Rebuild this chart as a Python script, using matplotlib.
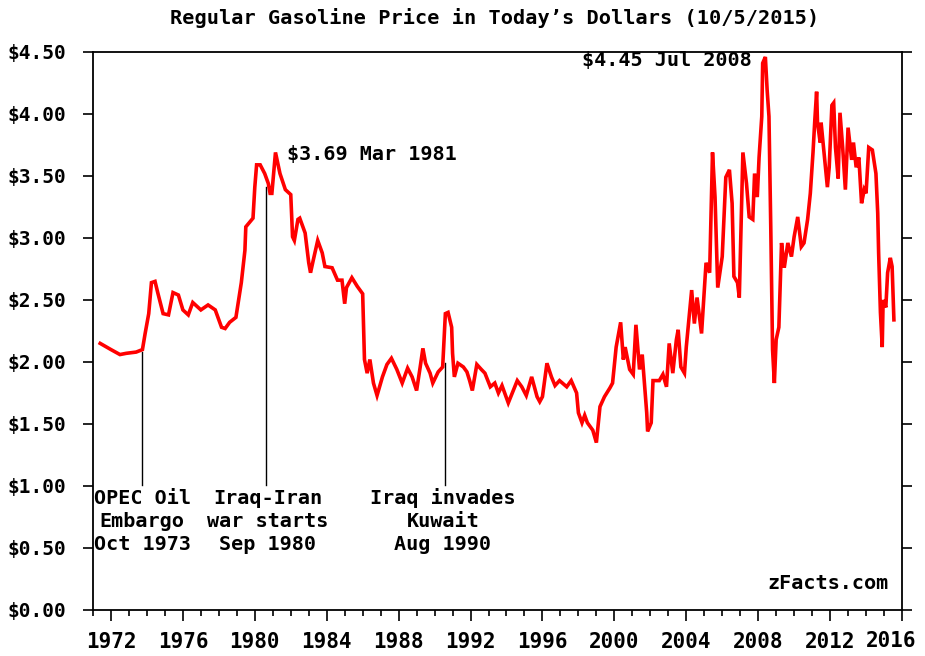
import matplotlib
matplotlib.use("Agg")
import matplotlib.pyplot as plt
from matplotlib.ticker import MultipleLocator, FuncFormatter

# monthly-ish readings (year, price in 2015 dollars)
years = [
    1971.4, 1972.0, 1972.5, 1972.85, 1973.4, 1973.75, 1973.9, 1974.1, 1974.25, 1974.45,
    1974.6, 1974.9, 1975.2, 1975.45, 1975.75, 1976.0, 1976.3, 1976.55, 1977.0, 1977.4,
    1977.8, 1978.15, 1978.35, 1978.6, 1978.95, 1979.25, 1979.45, 1979.5, 1979.9, 1980.0,
    1980.1, 1980.3, 1980.55, 1980.75, 1980.85, 1980.95, 1981.15, 1981.4, 1981.7, 1982.0,
    1982.1, 1982.2, 1982.4, 1982.5, 1982.8, 1983.0, 1983.1, 1983.25, 1983.5, 1983.75,
    1983.9, 1984.3, 1984.6, 1984.85, 1985.0, 1985.1, 1985.4, 1985.7, 1985.85, 1986.0,
    1986.1, 1986.25, 1986.4, 1986.6, 1986.8, 1987.1, 1987.35, 1987.6, 1987.9, 1988.2,
    1988.5, 1988.75, 1989.0, 1989.2, 1989.35, 1989.5, 1989.75, 1989.9, 1990.2, 1990.45,
    1990.6, 1990.75, 1990.95, 1991.0, 1991.1, 1991.3, 1991.6, 1991.8, 1991.95, 1992.1,
    1992.35, 1992.6, 1992.8, 1993.1, 1993.35, 1993.55, 1993.75, 1994.1, 1994.6, 1994.85,
    1995.1, 1995.4, 1995.7, 1995.85, 1996.0, 1996.25, 1996.5, 1996.7, 1996.95, 1997.35,
    1997.6, 1997.9, 1998.0, 1998.2, 1998.35, 1998.5, 1998.8, 1999.0, 1999.2, 1999.45,
    1999.75, 1999.9, 2000.1, 2000.35, 2000.5, 2000.6, 2000.85, 2001.05, 2001.2, 2001.4,
    2001.55, 2001.8, 2001.85, 2002.05, 2002.15, 2002.5, 2002.7, 2002.9, 2003.05, 2003.25,
    2003.45, 2003.55, 2003.7, 2003.9, 2004.0, 2004.3, 2004.45, 2004.6, 2004.85, 2005.1,
    2005.3, 2005.46, 2005.6, 2005.75, 2006.0, 2006.2, 2006.4, 2006.55, 2006.65, 2006.85,
    2006.95, 2007.15, 2007.35, 2007.5, 2007.7, 2007.8, 2007.95, 2008.05, 2008.2, 2008.25,
    2008.4, 2008.5, 2008.6, 2008.7, 2008.8, 2008.9, 2009.0, 2009.15, 2009.3, 2009.45,
    2009.65, 2009.85, 2010.0, 2010.2, 2010.4, 2010.55, 2010.75, 2010.9, 2011.05, 2011.15,
    2011.25, 2011.3, 2011.45, 2011.5, 2011.7, 2011.85, 2011.95, 2012.1, 2012.2, 2012.3,
    2012.45, 2012.55, 2012.7, 2012.85, 2013.0, 2013.2, 2013.3, 2013.45, 2013.6, 2013.75,
    2013.9, 2014.0, 2014.15, 2014.35, 2014.55, 2014.65, 2014.7, 2014.8, 2014.9, 2014.95,
    2015.1, 2015.2, 2015.35, 2015.45, 2015.5, 2015.55,
]
prices = [
    2.15, 2.10, 2.06, 2.07, 2.08, 2.10, 2.23, 2.39, 2.64, 2.65,
    2.56, 2.39, 2.38, 2.56, 2.54, 2.42, 2.38, 2.48, 2.42, 2.46,
    2.42, 2.28, 2.27, 2.32, 2.36, 2.64, 2.90, 3.09, 3.16, 3.41,
    3.59, 3.59, 3.52, 3.44, 3.36, 3.36, 3.69, 3.52, 3.39, 3.35,
    3.01, 2.98, 3.15, 3.16, 3.04, 2.80, 2.72, 2.82, 2.98, 2.88,
    2.77, 2.76, 2.66, 2.66, 2.47, 2.60, 2.68, 2.61, 2.58, 2.55,
    2.02, 1.91, 2.02, 1.83, 1.73, 1.88, 1.98, 2.03, 1.94, 1.83,
    1.95, 1.88, 1.77, 1.96, 2.11, 1.99, 1.91, 1.83, 1.92, 1.96,
    2.39, 2.40, 2.28, 2.07, 1.88, 1.99, 1.96, 1.92, 1.85, 1.77,
    1.98, 1.94, 1.91, 1.80, 1.83, 1.75, 1.81, 1.67, 1.85, 1.80,
    1.73, 1.88, 1.72, 1.68, 1.72, 1.99, 1.88, 1.81, 1.85, 1.80,
    1.85, 1.75, 1.59, 1.51, 1.57, 1.51, 1.45, 1.35, 1.64, 1.72,
    1.79, 1.83, 2.12, 2.32, 2.02, 2.12, 1.94, 1.90, 2.30, 1.94,
    2.06, 1.59, 1.44, 1.51, 1.85, 1.85, 1.90, 1.80, 2.15, 1.91,
    2.18, 2.26, 1.96, 1.91, 2.12, 2.58, 2.31, 2.52, 2.23, 2.80,
    2.72, 3.69, 3.33, 2.60, 2.85, 3.49, 3.55, 3.28, 2.69, 2.64,
    2.52, 3.69, 3.44, 3.17, 3.15, 3.52, 3.33, 3.65, 3.98, 4.41,
    4.46, 4.19, 3.98, 3.09, 2.10, 1.83, 2.18, 2.28, 2.96, 2.76,
    2.96, 2.85, 3.01, 3.17, 2.93, 2.96, 3.15, 3.36, 3.69, 3.95,
    4.18, 3.93, 3.77, 3.93, 3.63, 3.41, 3.57, 4.07, 4.09, 3.73,
    3.48, 4.01, 3.73, 3.39, 3.89, 3.63, 3.77, 3.57, 3.65, 3.28,
    3.39, 3.36, 3.73, 3.71, 3.52, 3.20, 2.88, 2.40, 2.12, 2.50,
    2.44, 2.72, 2.84, 2.77, 2.56, 2.34,
]

# events marked with a vertical line: (x, top of line, label lines)
event_x = [1973.75, 1980.64, 1990.57]
event_top = [2.08, 3.41, 1.99]
event_label_x = [1973.74, 1980.7, 1990.46]
event_labels = [
    ["OPEC Oil", "Embargo", "Oct 1973"],
    ["Iraq-Iran", "war starts", "Sep 1980"],
    ["Iraq invades", "Kuwait", "Aug 1990"],
]

plt.rcParams['font.family'] = ['DejaVu Sans Mono']
plt.rcParams['font.weight'] = 'bold'
fs = 14.5

fig = plt.figure(figsize=(9.25, 6.56), dpi=100)
ax = fig.add_axes([93 / 925, 1 - 610 / 656, (902 - 93) / 925, (610 - 52) / 656])

ax.plot(years, prices, color='#ff0000', linewidth=2.6, solid_joinstyle='miter', zorder=3)

for x, top, lx, lines in zip(event_x, event_top, event_label_x, event_labels):
    ax.plot([x, x], [1.01, top], color='black', linewidth=1.0, zorder=2)
    for i, line in enumerate(lines):
        ax.text(lx, 0.90 - i * 0.185, line, ha='center', va='center', fontsize=fs, fontweight='bold')

ax.text(1981.8, 3.67, "$3.69 Mar 1981", ha='left', va='center', fontsize=fs, fontweight='bold')
ax.text(2007.63, 4.43, "$4.45 Jul 2008", ha='right', va='center', fontsize=fs, fontweight='bold')
ax.text(2015.28, 0.21, "zFacts.com", ha='right', va='center', fontsize=fs, fontweight='bold')

ax.set_xlim(1971.0, 2016.0)
ax.set_ylim(0, 4.5)
ax.xaxis.set_major_locator(MultipleLocator(4))
ax.xaxis.set_minor_locator(MultipleLocator(1))
ax.yaxis.set_major_locator(MultipleLocator(0.5))
ax.yaxis.set_major_formatter(FuncFormatter(lambda v, p: f"${v:.2f}"))
# the last year label is pulled in to stay inside the image, as in the original
ax.xaxis.set_major_formatter(FuncFormatter(lambda v, p: "" if round(v) >= 2016 else f"{int(round(v))}"))

ax.tick_params(axis='x', which='major', direction='out', length=8, width=1.2, pad=8, labelsize=15)
ax.tick_params(axis='x', which='minor', direction='out', length=4, width=1.2)
ax.tick_params(axis='y', which='major', direction='out', length=7, width=1.2, pad=12,
               labelsize=14, right=True)
for lab in ax.get_xticklabels() + ax.get_yticklabels():
    lab.set_fontweight('bold')
for s in ax.spines.values():
    s.set_linewidth(1.3)

fig.text(916 / 925, 1 - 641 / 656, "2016", ha='right', va='center', fontsize=15, fontweight='bold')

fig.text(495 / 925, 1 - 18 / 656, "Regular Gasoline Price in Today\u2019s Dollars (10/5/2015)",
         ha='center', va='center', fontsize=14.6, fontweight='bold')

fig.savefig("out.png", dpi=100)
